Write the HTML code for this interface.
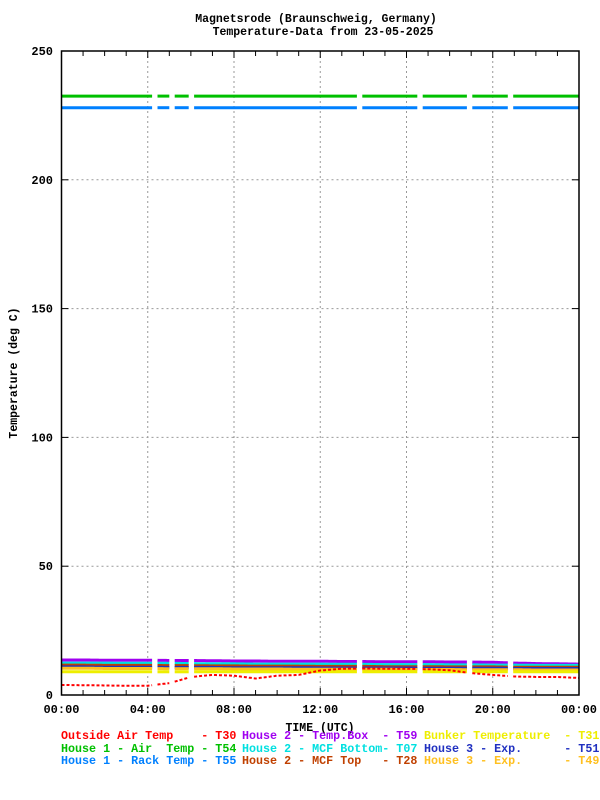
<!DOCTYPE html>
<html><head><meta charset="utf-8"><style>
body{margin:0;background:#fff;}
svg{display:block;font-family:"Liberation Mono",monospace;font-weight:bold;}
</style></head><body>
<svg id="chart" width="600" height="800">
<text x="316" y="22" font-size="11.5" text-anchor="middle">Magnetsrode (Braunschweig, Germany)</text>
<text x="323" y="35" font-size="11.5" text-anchor="middle">Temperature-Data from 23-05-2025</text>
<g id="grid"></g>
<g id="series"></g>
<g id="axes"></g>
<text x="320" y="731" font-size="11.5" text-anchor="middle">TIME (UTC)</text>
<text transform="translate(17,373) rotate(-90)" font-size="11.5" text-anchor="middle">Temperature (deg C)</text>
<g id="legend"></g>
</svg>
<script>
const hours=[0,1,2,3,4,5,6,7,8,9,10,11,12,13,14,15,16,17,18,19,20,21,22,23,24];
const gapsStart=[4.25,5.05,5.95,13.75,16.55,18.85,20.75];
const gapsEnd=[4.4,5.2,6.1,13.9,16.7,19.0,20.9];
const seriesNames=["Outside Air Temp    - T30","House 2 - Temp.Box  - T59","Bunker Temperature  - T31","House 1 - Air  Temp - T54","House 2 - MCF Bottom- T07","House 3 - Exp.      - T51","House 1 - Rack Temp - T55","House 2 - MCF Top   - T28","House 3 - Exp.      - T49"];
const seriesColors=["#ff0000","#a000f0","#eeee00","#00c000","#00e0e0","#2030c0","#0080ff","#c04000","#ffc020"];
const sOutside=[3.9,3.8,3.7,3.6,3.6,4.6,7,7.8,7.5,6.4,7.5,7.8,9.5,10.2,10.3,10.2,10.2,10,9.6,8.5,7.8,7.2,7,7,6.6];
const sTempBox=[13.6,13.6,13.5,13.5,13.5,13.4,13.4,13.3,13.2,13.2,13.1,13.1,13.1,13,13,12.9,12.9,12.9,12.8,12.8,12.7,12.4,12.2,12.1,12];
const sBunker=[9,9,9,9,9,9,9,9,9,9,9,9,9,9,9,9,9,9,9,9,9,9,9,9,9];
const sAir=[232.5,232.5,232.5,232.5,232.5,232.5,232.5,232.5,232.5,232.5,232.5,232.5,232.5,232.5,232.5,232.5,232.5,232.5,232.5,232.5,232.5,232.5,232.5,232.5,232.5];
const sBottom=[12.4,12.4,12.4,12.3,12.3,12.3,12.2,12.1,12.1,12,12,12,12,11.9,11.9,11.8,11.8,11.8,11.7,11.7,11.6,11.6,11.5,11.5,11.5];
const sExp51=[10.9,10.9,10.8,10.8,10.8,10.7,10.7,10.7,10.6,10.6,10.6,10.6,10.5,10.5,10.5,10.5,10.5,10.4,10.4,10.4,10.4,10.3,10.3,10.3,10.3];
const sRack=[228,228,228,228,228,228,228,228,228,228,228,228,228,228,228,228,228,228,228,228,228,228,228,228,228];
const sTop=[11.6,11.6,11.5,11.5,11.5,11.4,11.4,11.3,11.3,11.2,11.2,11.2,11.1,11.1,11.1,11,11,11,10.9,10.9,10.9,10.8,10.8,10.8,10.8];
const sExp49=[10.4,10.4,10.3,10.3,10.3,10.2,10.2,10.2,10.1,10.1,10.1,10,10,10,10,10,9.9,9.9,9.9,9.8,9.8,9.8,9.7,9.7,9.7];
const seriesData=[sOutside,sTempBox,sBunker,sAir,sBottom,sExp51,sRack,sTop,sExp49];
const xTickLabels=["00:00","04:00","08:00","12:00","16:00","20:00","00:00"];
const yTickLabels=["0","50","100","150","200","250"];

const L=61.5,R=579,T=51,B=695;
const xs=h=>L+(R-L)*h/24;
const ys=v=>B-(B-T)*v/250;
const NS="http://www.w3.org/2000/svg";
function mk(tag,parent,attrs){const e=document.createElementNS(NS,tag);for(const k in attrs)e.setAttribute(k,attrs[k]);parent.appendChild(e);return e;}
const grid=document.getElementById('grid'),axes=document.getElementById('axes'),ser=document.getElementById('series'),leg=document.getElementById('legend');
for(let i=1;i<6;i++){const h=i*4;const l=mk('line',grid,{x1:xs(h),x2:xs(h),y1:T,y2:B,stroke:'#999','stroke-dasharray':'2,3'});

}
for(let i=1;i<5;i++){const v=i*50;const l=mk('line',grid,{x1:L,x2:R,y1:ys(v),y2:ys(v),stroke:'#999','stroke-dasharray':'2,3'});

}
function inGap(h){for(let i=0;i<gapsStart.length;i++)if(h>=gapsStart[i]&&h<=gapsEnd[i])return true;return false;}
const drawOrder=[1,4,7,5,8,2,3,6,0];
drawOrder.forEach(si=>{
  const d=seriesData[si];
  let pts=[];const segs=[];
  for(let k=0;k<hours.length-1;k++){
    for(let s=0;s<20;s++){const h=hours[k]+(hours[k+1]-hours[k])*s/20;const v=d[k]+(d[k+1]-d[k])*s/20;
      if(inGap(h)){if(pts.length)segs.push(pts);pts=[];}else pts.push(xs(h).toFixed(1)+','+ys(v).toFixed(1));}
  }
  pts.push(xs(24)+','+ys(d[d.length-1]));segs.push(pts);
  const g=mk('g',ser,{});
  
  
  segs.forEach(p=>{const pl=mk('polyline',g,{points:p.join(' '),fill:'none',stroke:seriesColors[si],'stroke-width':si==0?2:3,'stroke-dasharray':si==0?'3,2':'none'});
    
    });
});
const box=mk('rect',axes,{x:L,y:T,width:R-L,height:B-T,fill:'none',stroke:'#000','stroke-width':1.5});


for(let h=1;h<24;h++){const len=h%4==0?7:5;
  const t1=mk('line',axes,{x1:xs(h),x2:xs(h),y1:B,y2:B-len,stroke:'#000'});
  
  
  const t2=mk('line',axes,{x1:xs(h),x2:xs(h),y1:T,y2:T+len,stroke:'#000'});
  
  }
xTickLabels.forEach((s,i)=>{const t=mk('text',axes,{x:xs(i*4),y:713,'font-size':12,'text-anchor':'middle'});t.textContent=s;
  
  });
yTickLabels.forEach((s,i)=>{const v=i*50;const t=mk('text',axes,{x:53,y:ys(v)+4,'font-size':12,'text-anchor':'end'});t.textContent=s;
  
  
  const a=mk('line',axes,{x1:L,x2:L+7,y1:ys(v),y2:ys(v),stroke:'#000'});
  
  
  const b=mk('line',axes,{x1:R,x2:R-7,y1:ys(v),y2:ys(v),stroke:'#000'});
  
  });
const colX=[61,242,424],rowY=[739,752,764];
seriesNames.forEach((n,i)=>{const r=Math.floor(i/3),c=i%3;
  const t=mk('text',leg,{x:colX[c],y:rowY[r],'font-size':11.7,fill:seriesColors[i]});
  t.style.whiteSpace='pre';t.textContent=n;
  
  });
</script>
</body></html>
